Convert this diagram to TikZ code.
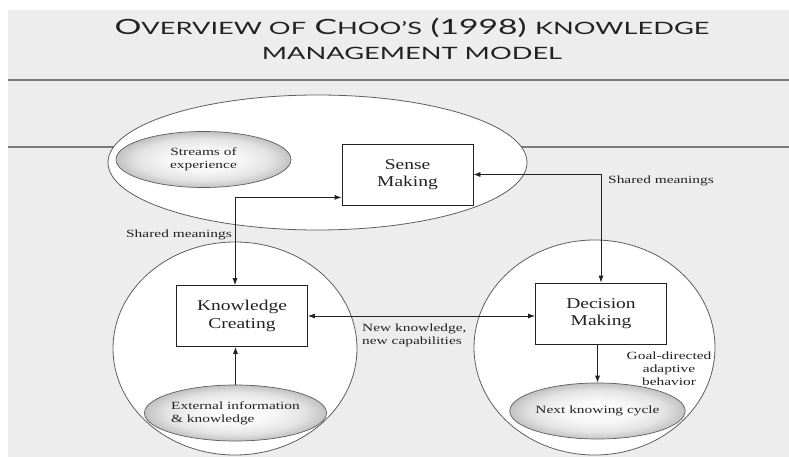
\documentclass[tikz,border=0pt]{standalone}
\usepackage{fontspec}
\usetikzlibrary{shapes.geometric, arrows.meta}
\setmainfont{Liberation Serif}
\newfontfamily\titlefont[FakeStretch=1.6]{Lato}
\newfontfamily\boxfont[FakeStretch=1.3]{Liberation Serif}
\newfontfamily\notefont[FakeStretch=1.4]{Liberation Serif}
\newcommand{\tsc}[1]{{\fontsize{17}{20}\selectfont #1}}

\definecolor{paper}{HTML}{EDEDED}
\definecolor{rule}{HTML}{7A7A7A}
\definecolor{ink}{HTML}{222222}
\definecolor{rim}{HTML}{5E5E5E}

\pgfdeclareradialshading{blobshade}{\pgfpointorigin}{%
  color(0bp)=(white); color(10bp)=(gray!6); color(19bp)=(gray!22);
  color(25bp)=(gray!48); color(29bp)=(gray!72); color(50bp)=(gray!72)}

\tikzset{
  stagebox/.style={draw=ink, fill=white, line width=0.8pt,
    minimum width=131pt, minimum height=61pt, inner sep=0pt,
    align=center, text=ink, font=\boxfont\fontsize{15}{17.5}\selectfont},
  flowblob/.style={ellipse, draw=rim, line width=0.7pt, shading=blobshade,
    minimum width=175pt, minimum height=56pt, inner sep=0pt,
    text=ink, font=\notefont\fontsize{11}{13}\selectfont},
  note/.style={text=ink, inner sep=0pt, font=\notefont\fontsize{11}{13}\selectfont},
  link/.style={ink, line width=0.8pt},
}

\begin{document}
\begin{tikzpicture}[x=1pt, y=-1pt, >={Latex[length=7pt,width=5pt]}]

  \useasboundingbox (0,0) rectangle (789,457);
  \fill[paper] (8,10) rectangle (789,457);

  % title
  \node[anchor=base, text=ink, inner sep=0pt, font=\titlefont\fontsize{21}{25}\selectfont]
    (title1) at (412,35) {O\tsc{VERVIEW OF} C\tsc{HOO’S} (1998) \tsc{KNOWLEDGE}};
  \node[anchor=base, text=ink, inner sep=0pt, font=\titlefont\fontsize{17}{20}\selectfont]
    (title2) at (412,60) {MANAGEMENT MODEL};

  % rules
  \draw[rule, line width=2pt] (8,80) -- (789,80);
  \draw[rule, line width=2pt] (8,147) -- (789,147);

  % the three spheres
  \draw[rim, fill=white, line width=0.8pt] (317.5,162.5) ellipse [x radius=209.5pt, y radius=67.5pt];
  \draw[rim, fill=white, line width=0.8pt] (235,348.5) ellipse [x radius=122pt, y radius=106.5pt];
  \draw[rim, fill=white, line width=0.8pt] (594.5,347.5) ellipse [x radius=120.5pt, y radius=107.5pt];

  % inputs and outputs
  \node[flowblob, align=center] (streams) at (203.5,159.5) {Streams of\\experience};
  \node[flowblob, align=left] (extern) at (235.5,413) {External information\\\& knowledge};
  \node[flowblob] (next) at (597.5,411) {Next knowing cycle};

  % processes
  \node[stagebox] (sense) at (407.5,174.5) {Sense\\Making};
  \node[stagebox] (know) at (242,316) {Knowledge\\Creating};
  \node[stagebox] (dec) at (601,313.5) {Decision\\Making};

  % shared meanings
  \draw[link, <->] (sense.east) -| (dec.north);
  \draw[link, <->] ([yshift=8pt]sense.south west) -| ([xshift=-7pt]know.north);

  % new knowledge
  \draw[link, <->] (know.east) -- (know.east -| dec.west);

  % external input, adaptive output
  \draw[link, ->] (extern.north) -- (extern.north |- know.south);
  \draw[link, ->] (dec.south -| next.north) -- (next.north);

  % labels
  \node[note, anchor=west] (sharedright) at (608,181) {Shared meanings};
  \node[note] (sharedleft) at (179,235) {Shared meanings};
  \node[note, anchor=west, align=left] (newknow) at (362,335) {New knowledge,\\new capabilities};
  \node[note, align=center] (goal) at (669,369) {Goal-directed\\adaptive\\behavior};

\end{tikzpicture}
\end{document}
